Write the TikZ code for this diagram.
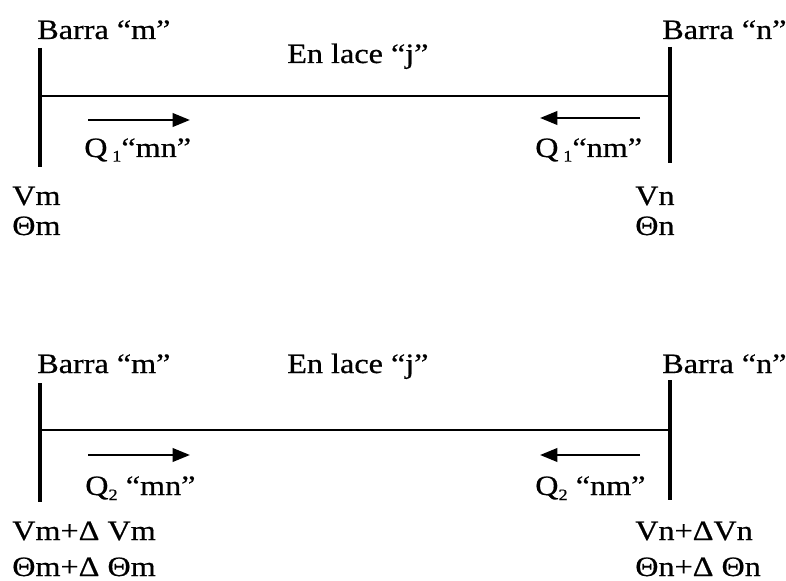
\documentclass[tikz,border=0pt]{standalone}
\usepackage{fontspec}
\setmainfont[FakeStretch=1.15,FakeBold=0.6]{Liberation Serif}
\usetikzlibrary{arrows.meta}
\begin{document}
\begin{tikzpicture}[x=0.75pt,y=-0.75pt,
  lbl/.style={inner sep=0pt,anchor=base west,font=\fontsize{21}{24}\selectfont},
  bus/.style={line width=3.2pt},
  link/.style={line width=1.4pt},
  flow/.style={line width=2pt,-{Triangle[length=13pt,width=10pt]}}]
\useasboundingbox (0,0) rectangle (786,581);
% ---------- top panel ----------
\coordinate (m1t) at (40,48); \coordinate (m1b) at (40,167); \coordinate (m1c) at (40,96);
\coordinate (n1t) at (670,47); \coordinate (n1b) at (670,163); \coordinate (n1c) at (670,96);
\draw[bus] (m1t) -- (m1b);
\draw[bus] (n1t) -- (n1b);
\draw[link] (m1c) -- (n1c);
\coordinate (a1s) at (88,120); \coordinate (a1e) at (190,120);
\coordinate (b1s) at (640,118); \coordinate (b1e) at (540,118);
\draw[flow] (a1s) -- (a1e);
\draw[flow] (b1s) -- (b1e);
\node[lbl] (bm1) at (37,39) {Barra “m”};
\node[lbl] (en1) at (287,63) {En lace “j”};
\node[lbl] (bn1) at (662,39) {Barra “n”};
\node[lbl] (q1mn) at (84,157) {Q\,\raisebox{-0.35ex}{\fontsize{12}{12}\selectfont 1}“mn”};
\node[lbl] (q1nm) at (535,157) {Q\,\raisebox{-0.35ex}{\fontsize{12}{12}\selectfont 1}“nm”};
\node[lbl] (vm1) at (12,205) {Vm};
\node[lbl] (tm1) at (12,235) {Θm};
\node[lbl] (vn1) at (635,205) {Vn};
\node[lbl] (tn1) at (635,235) {Θn};
% ---------- bottom panel ----------
\coordinate (m2t) at (40,383); \coordinate (m2b) at (40,502); \coordinate (m2c) at (40,430);
\coordinate (n2t) at (670,380); \coordinate (n2b) at (670,500); \coordinate (n2c) at (670,430);
\draw[bus] (m2t) -- (m2b);
\draw[bus] (n2t) -- (n2b);
\draw[link] (m2c) -- (n2c);
\coordinate (a2s) at (88,455); \coordinate (a2e) at (190,455);
\coordinate (b2s) at (640,455); \coordinate (b2e) at (540,455);
\draw[flow] (a2s) -- (a2e);
\draw[flow] (b2s) -- (b2e);
\node[lbl] (bm2) at (37,373) {Barra “m”};
\node[lbl] (en2) at (287,373) {En lace “j”};
\node[lbl] (bn2) at (662,373) {Barra “n”};
\node[lbl] (q2mn) at (85,495) {Q\raisebox{-0.4ex}{\fontsize{12}{12}\selectfont 2} “mn”};
\node[lbl] (q2nm) at (535,495) {Q\raisebox{-0.4ex}{\fontsize{12}{12}\selectfont 2} “nm”};
\node[lbl] (vm2) at (12,540) {Vm+Δ Vm};
\node[lbl] (tm2) at (12,576) {Θm+Δ Θm};
\node[lbl] (vn2) at (635,540) {Vn+ΔVn};
\node[lbl] (tn2) at (635,576) {Θn+Δ Θn};
\end{tikzpicture}
\end{document}
